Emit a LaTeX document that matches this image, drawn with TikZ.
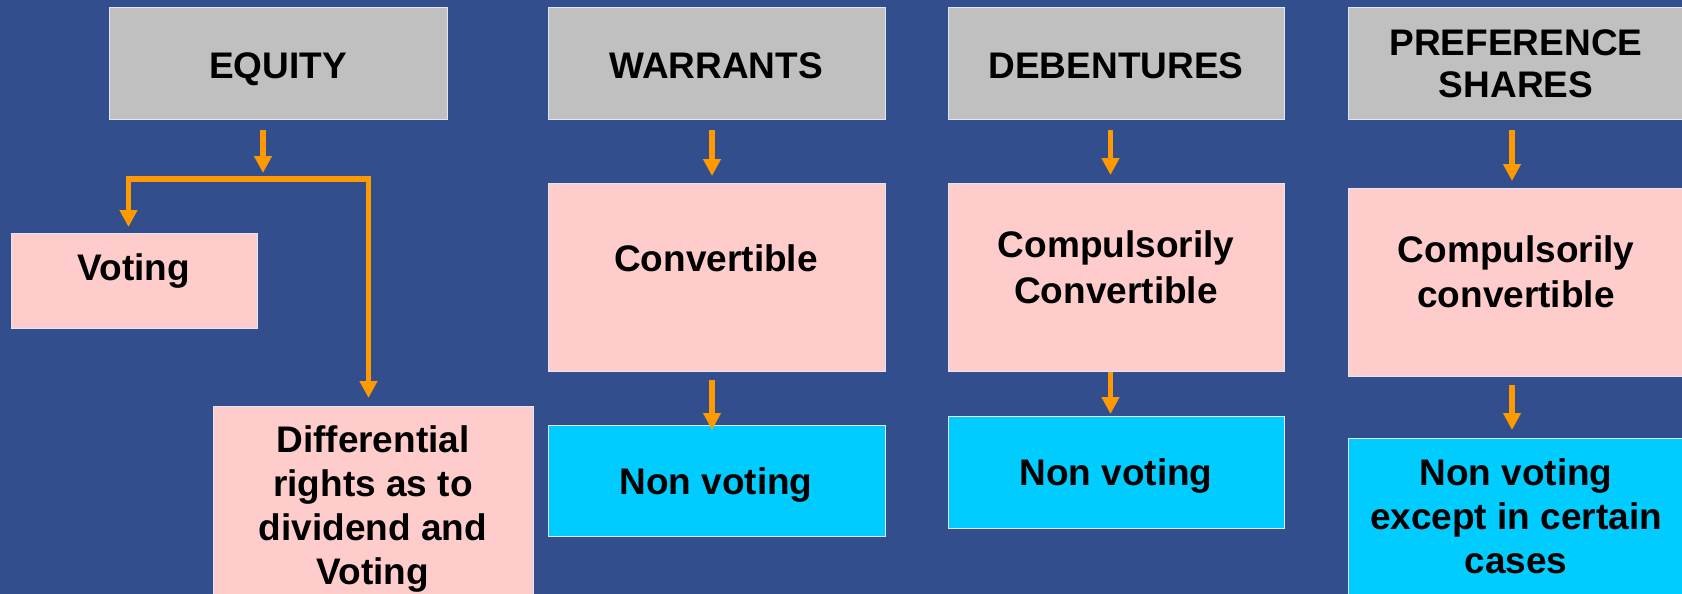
\documentclass[tikz,border=0pt]{standalone}
\usepackage{fontspec}
\setmainfont{Liberation Sans}
\usepackage{xcolor}
\usepackage{tikz}
\definecolor{slideblue}{RGB}{51,78,140}
\definecolor{headgray}{RGB}{192,192,192}
\definecolor{softpink}{RGB}{255,204,204}
\definecolor{skycyan}{RGB}{0,204,255}
\definecolor{arroworange}{RGB}{255,153,0}
\definecolor{rimwhite}{RGB}{225,230,245}
\usetikzlibrary{arrows.meta, positioning, calc}

\tikzset{
	box/.style={draw=rimwhite, line width=1pt, inner sep=0pt, anchor=north west},
	headbox/.style={box, fill=headgray, minimum height=112pt},
	pinkbox/.style={box, fill=softpink},
	cyanbox/.style={box, fill=skycyan},
	txt/.style={font=\bfseries\fontsize{37}{44}\selectfont, align=center, inner sep=0pt, anchor=base},
	arr/.style={draw=arroworange, line width=5.5pt, >={Triangle[width=17pt, length=17pt]}, ->}
}

\begin{document}
\begin{tikzpicture}[x=1pt, y=-1pt]
	\useasboundingbox (0,0) rectangle (1682,594);
	\clip (0,0) rectangle (1682,594);
	\fill[slideblue] (0,0) rectangle (1682,594);
	
	% base of a text node = baseline of its last line
	\node[headbox, minimum width=338pt] (equity) at (109,7) {};
	\node[txt] (equitytxt) at (278,78) {EQUITY};
	
	\node[headbox, minimum width=337pt] (warrants) at (548,7) {};
	\node[txt] (warrantstxt) at (716,78) {WARRANTS};
	
	\node[headbox, minimum width=336pt] (debentures) at (948,7) {};
	\node[txt] (debenturestxt) at (1116,78) {DEBENTURES};
	
	\node[headbox, minimum width=337pt] (pref) at (1348,7) {};
	\node[txt, font=\bfseries\fontsize{37}{42}\selectfont] (preftxt) at (1516,97) {PREFERENCE\\SHARES};
	
	\node[pinkbox, minimum width=246pt, minimum height=95pt] (voting) at (11,233) {};
	\node[txt] (votingtxt) at (134,280) {Voting};
	
	\node[pinkbox, minimum width=320pt, minimum height=260pt] (diff) at (213,406) {};
	\node[txt] (difftxt) at (373,584) {Differential\\rights as to\\dividend and\\Voting};
	
	\node[pinkbox, minimum width=337pt, minimum height=188pt] (conv) at (548,183) {};
	\node[txt] (convtxt) at (716,271) {Convertible};
	
	\node[cyanbox, minimum width=337pt, minimum height=111pt] (nvw) at (548,425) {};
	\node[txt] (nvwtxt) at (716,494) {Non voting};
	
	\node[pinkbox, minimum width=336pt, minimum height=188pt] (compd) at (948,183) {};
	\node[txt, font=\bfseries\fontsize{37}{46}\selectfont] (compdtxt) at (1116,303) {Compulsorily\\Convertible};
	
	\node[cyanbox, minimum width=336pt, minimum height=112pt] (nvd) at (948,416) {};
	\node[txt] (nvdtxt) at (1116,485) {Non voting};
	
	\node[pinkbox, minimum width=337pt, minimum height=188pt] (compp) at (1348,188) {};
	\node[txt, font=\bfseries\fontsize{37}{45}\selectfont] (compptxt) at (1516,307) {Compulsorily\\convertible};
	
	\node[cyanbox, minimum width=337pt, minimum height=220pt] (nvp) at (1348,438) {};
	\node[txt] (nvptxt) at (1516,573) {Non voting\\except in certain\\cases};
	
	% equity splits in two
	\coordinate (split) at (263,179);
	\draw[arr, shorten <=10pt, shorten >=6pt] (equity.south -| split) -- (split);
	\draw[arr, <->, shorten <=6pt, shorten >=8pt] ([xshift=-6pt]voting.north) |- (split) -| ([xshift=-5pt]diff.north);
	
	\draw[arr, shorten <=10pt, shorten >=7pt] ([xshift=-5pt]warrants.south) -- ([xshift=-5pt]conv.north);
	\draw[arr, shorten <=8pt, shorten >=-5pt] ([xshift=-5pt]conv.south) -- ([xshift=-5pt]nvw.north);
	
	\draw[arr, shorten <=10pt, shorten >=8pt] ([xshift=-6pt]debentures.south) -- ([xshift=-6pt]compd.north);
	\draw[arr, shorten <=0pt, shorten >=2pt] ([xshift=-6pt]compd.south) -- ([xshift=-6pt]nvd.north);
	
	\draw[arr, shorten <=10pt, shorten >=7pt] ([xshift=-5pt]pref.south) -- ([xshift=-5pt]compp.north);
	\draw[arr, shorten <=8pt, shorten >=8pt] ([xshift=-5pt]compp.south) -- ([xshift=-5pt]nvp.north);
\end{tikzpicture}
\end{document}
